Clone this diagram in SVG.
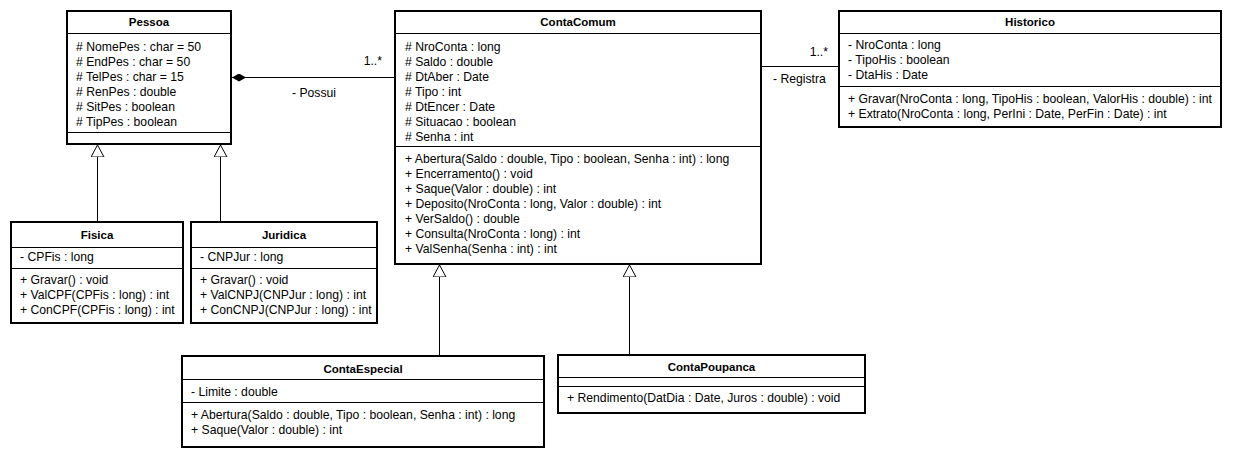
<svg xmlns="http://www.w3.org/2000/svg" width="1234" height="458" viewBox="0 0 1234 458">
<style>
.box{fill:#fff;stroke:#000;stroke-width:2}
.div{stroke:#000;stroke-width:1}
.t{font-family:"Liberation Sans",Arial,sans-serif;font-size:12.2px;fill:#000}
.h{font-family:"Liberation Sans",Arial,sans-serif;font-size:11.5px;font-weight:bold;fill:#000;text-anchor:middle}
.c{fill:none;stroke:#000;stroke-width:1}
</style>
<defs>
<marker id="gen" viewBox="0 0 12 14" refX="12" refY="7" markerWidth="12" markerHeight="14" markerUnits="userSpaceOnUse" orient="auto">
<path d="M12,7 L0,0.5 L0,13.5 Z" fill="#fff" stroke="#000" stroke-width="1"/>
</marker>
<marker id="comp" viewBox="0 0 14 8" refX="14" refY="4" markerWidth="14" markerHeight="8" markerUnits="userSpaceOnUse" orient="auto">
<path d="M0,4 L7,0 L14,4 L7,8 Z" fill="#000"/>
</marker>
</defs>
<rect width="1234" height="458" fill="#fff"/>
<g id="connectors">
<path class="c" d="M394,77.5 L232,77.5" marker-end="url(#comp)"/>
<text class="t" x="382" y="65" text-anchor="end">1..*</text>
<text class="t" x="292" y="97">- Possui</text>
<path class="c" d="M762,66.5 L838,66.5"/>
<text class="t" x="828" y="56" text-anchor="end">1..*</text>
<text class="t" x="773" y="83">- Registra</text>
<path class="c" d="M97.5,222 L97.5,145" marker-end="url(#gen)"/>
<path class="c" d="M220.5,222 L220.5,145" marker-end="url(#gen)"/>
<path class="c" d="M439.5,356 L439.5,265" marker-end="url(#gen)"/>
<path class="c" d="M629.5,355 L629.5,265" marker-end="url(#gen)"/>
</g>
<g id="Pessoa">
<rect class="box" x="67" y="11" width="164" height="133"/>
<line class="div" x1="67" y1="33.5" x2="231" y2="33.5"/>
<line class="div" x1="67" y1="132.5" x2="231" y2="132.5"/>
<text class="h" x="149" y="26">Pessoa</text>
<text class="t" x="76" y="51"># NomePes : char = 50</text>
<text class="t" x="76" y="66"># EndPes : char = 50</text>
<text class="t" x="76" y="81"># TelPes : char = 15</text>
<text class="t" x="76" y="96"># RenPes : double</text>
<text class="t" x="76" y="111"># SitPes : boolean</text>
<text class="t" x="76" y="126"># TipPes : boolean</text>
</g>
<g id="ContaComum">
<rect class="box" x="395" y="11" width="366" height="253"/>
<line class="div" x1="395" y1="33.5" x2="761" y2="33.5"/>
<line class="div" x1="395" y1="146.5" x2="761" y2="146.5"/>
<text class="h" x="578" y="26">ContaComum</text>
<text class="t" x="405" y="51"># NroConta : long</text>
<text class="t" x="405" y="66"># Saldo : double</text>
<text class="t" x="405" y="81"># DtAber : Date</text>
<text class="t" x="405" y="96"># Tipo : int</text>
<text class="t" x="405" y="111"># DtEncer : Date</text>
<text class="t" x="405" y="126"># Situacao : boolean</text>
<text class="t" x="405" y="141"># Senha : int</text>
<text class="t" x="405" y="163">+ Abertura(Saldo : double, Tipo : boolean, Senha : int) : long</text>
<text class="t" x="405" y="178">+ Encerramento() : void</text>
<text class="t" x="405" y="193">+ Saque(Valor : double) : int</text>
<text class="t" x="405" y="208">+ Deposito(NroConta : long, Valor : double) : int</text>
<text class="t" x="405" y="223">+ VerSaldo() : double</text>
<text class="t" x="405" y="238">+ Consulta(NroConta : long) : int</text>
<text class="t" x="405" y="253">+ ValSenha(Senha : int) : int</text>
</g>
<g id="Historico">
<rect class="box" x="839" y="11" width="382" height="116"/>
<line class="div" x1="839" y1="33.5" x2="1221" y2="33.5"/>
<line class="div" x1="839" y1="86.5" x2="1221" y2="86.5"/>
<text class="h" x="1030" y="26">Historico</text>
<text class="t" x="848" y="49">- NroConta : long</text>
<text class="t" x="848" y="64">- TipoHis : boolean</text>
<text class="t" x="848" y="79">- DtaHis : Date</text>
<text class="t" x="848" y="103">+ Gravar(NroConta : long, TipoHis : boolean, ValorHis : double) : int</text>
<text class="t" x="848" y="118">+ Extrato(NroConta : long, PerIni : Date, PerFin : Date) : int</text>
</g>
<g id="Fisica">
<rect class="box" x="11" y="222" width="172" height="101"/>
<line class="div" x1="11" y1="247.5" x2="183" y2="247.5"/>
<line class="div" x1="11" y1="268.5" x2="183" y2="268.5"/>
<text class="h" x="97" y="239">Fisica</text>
<text class="t" x="20" y="261">- CPFis : long</text>
<text class="t" x="20" y="284">+ Gravar() : void</text>
<text class="t" x="20" y="299">+ ValCPF(CPFis : long) : int</text>
<text class="t" x="20" y="314">+ ConCPF(CPFis : long) : int</text>
</g>
<g id="Juridica">
<rect class="box" x="191" y="222" width="186" height="101"/>
<line class="div" x1="191" y1="247.5" x2="377" y2="247.5"/>
<line class="div" x1="191" y1="268.5" x2="377" y2="268.5"/>
<text class="h" x="284" y="239">Juridica</text>
<text class="t" x="200" y="261">- CNPJur : long</text>
<text class="t" x="200" y="284">+ Gravar() : void</text>
<text class="t" x="200" y="299">+ ValCNPJ(CNPJur : long) : int</text>
<text class="t" x="200" y="314">+ ConCNPJ(CNPJur : long) : int</text>
</g>
<g id="ContaEspecial">
<rect class="box" x="182" y="356" width="362" height="91"/>
<line class="div" x1="182" y1="379.5" x2="544" y2="379.5"/>
<line class="div" x1="182" y1="402.5" x2="544" y2="402.5"/>
<text class="h" x="363" y="373">ContaEspecial</text>
<text class="t" x="191" y="396">- Limite : double</text>
<text class="t" x="191" y="419">+ Abertura(Saldo : double, Tipo : boolean, Senha : int) : long</text>
<text class="t" x="191" y="434">+ Saque(Valor : double) : int</text>
</g>
<g id="ContaPoupanca">
<rect class="box" x="558" y="355" width="307" height="58"/>
<line class="div" x1="558" y1="377.5" x2="865" y2="377.5"/>
<line class="div" x1="558" y1="386.5" x2="865" y2="386.5"/>
<text class="h" x="711.5" y="371">ContaPoupanca</text>
<text class="t" x="567" y="402">+ Rendimento(DatDia : Date, Juros : double) : void</text>
</g>
</svg>
